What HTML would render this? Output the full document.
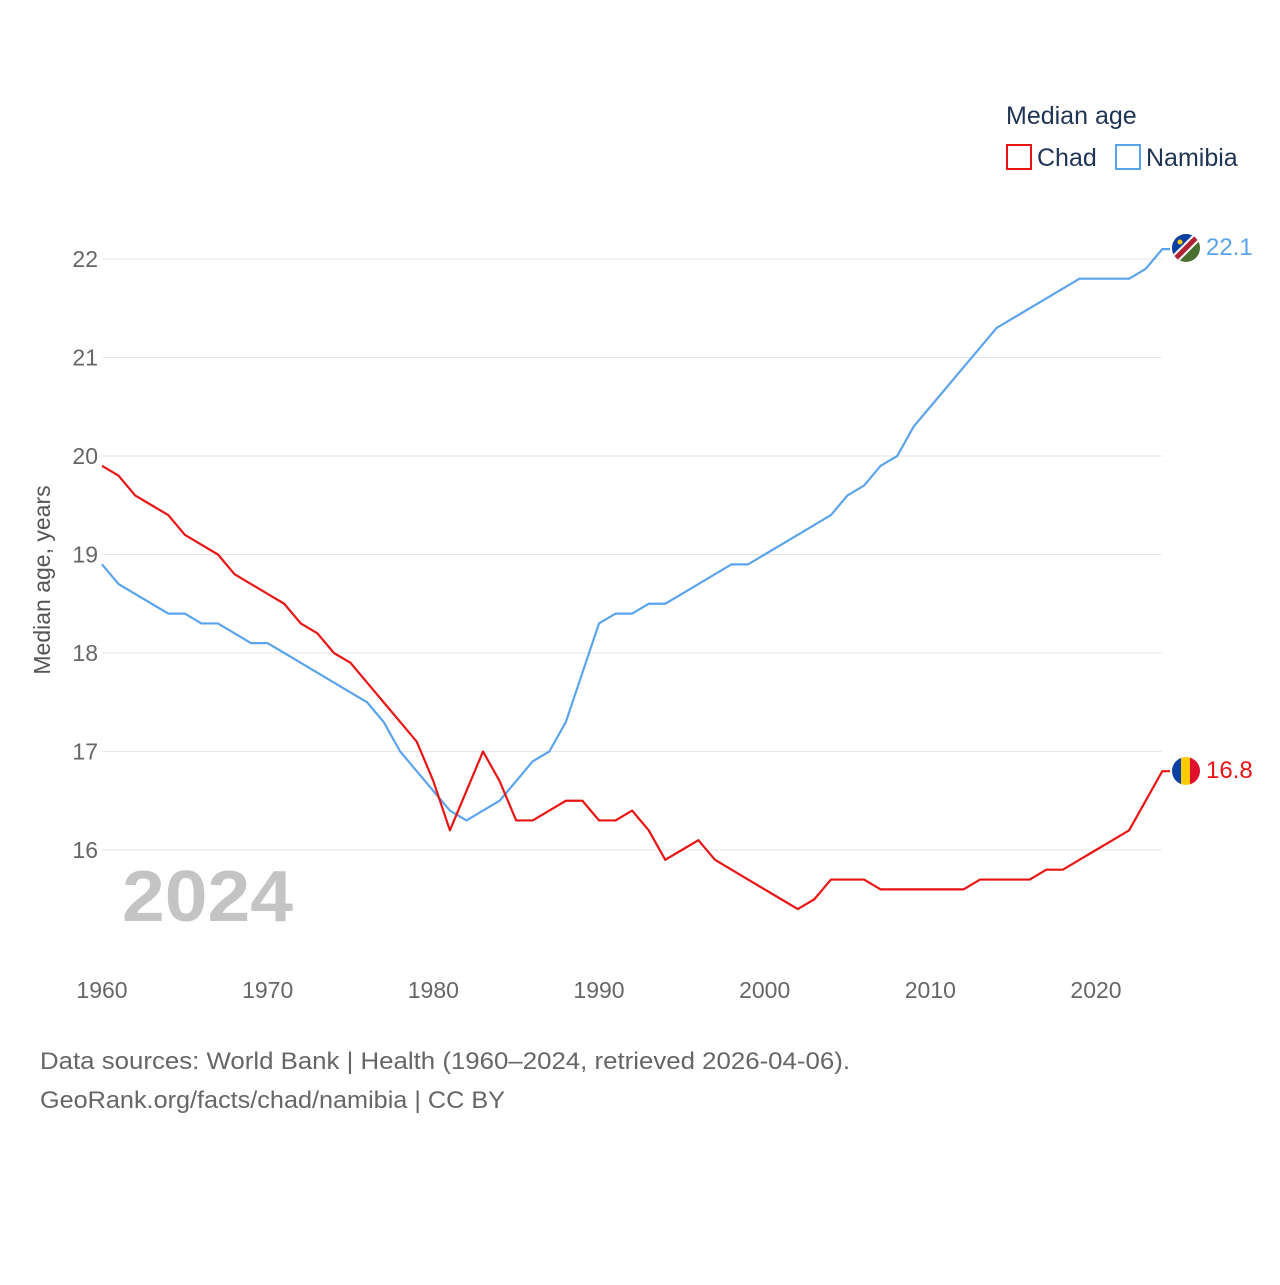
<!DOCTYPE html>
<html><head><meta charset="utf-8">
<style>
body{margin:0;background:#fff;font-family:"Liberation Sans",sans-serif;}
svg text{font-family:"Liberation Sans",sans-serif;}
</style></head>
<body>
<svg id="chart" width="1280" height="1280" xmlns="http://www.w3.org/2000/svg">
<defs>
<clipPath id="cn"><circle cx="1186" cy="248" r="14"/></clipPath>
<clipPath id="ct"><circle cx="1186" cy="771" r="14"/></clipPath>
</defs>
<g id="grid"></g>
<g id="xt"></g>
<text transform="translate(50,580) rotate(-90)" text-anchor="middle" font-size="23" fill="#555">Median age, years</text>
<text x="122" y="921" font-size="72" font-weight="bold" fill="#c4c4c4" textLength="171" lengthAdjust="spacingAndGlyphs">2024</text>
<g id="lines"></g>
<text x="1006" y="124" font-size="25" fill="#1f3354">Median age</text>
<g><rect x="1007" y="145" width="24" height="24" fill="none" stroke="#e81414" stroke-width="2"/><text x="1037" y="166" font-size="25" fill="#1f3354">Chad</text></g>
<g><rect x="1116" y="145" width="24" height="24" fill="none" stroke="#5ba4ec" stroke-width="2"/><text x="1146" y="166" font-size="25" fill="#1f3354">Namibia</text></g>
<g clip-path="url(#cn)">
<rect x="1172" y="234" width="28" height="28" fill="#4a6f2e"/>
<polygon points="1172,234 1200,234 1172,262" fill="#0a3fa3"/>
<line x1="1200" y1="234" x2="1172" y2="262" stroke="#fff" stroke-width="9"/>
<line x1="1200" y1="234" x2="1172" y2="262" stroke="#b22234" stroke-width="5"/>
<circle cx="1180" cy="242" r="2.5" fill="#ffcc00"/>
</g>
<g clip-path="url(#ct)">
<rect x="1172" y="757" width="10" height="28" fill="#0a3fa3"/>
<rect x="1181" y="757" width="10" height="28" fill="#fecb00"/>
<rect x="1190" y="757" width="10" height="28" fill="#e0102c"/>
</g>
<text x="1206" y="255" font-size="24" fill="#5ba4ec">22.1</text>
<text x="1206" y="778" font-size="24" fill="#e81414">16.8</text>
<text x="40" y="1069" font-size="24" fill="#666" textLength="810" lengthAdjust="spacingAndGlyphs">Data sources: World Bank | Health (1960–2024, retrieved 2026-04-06).</text>
<text x="40" y="1108" font-size="24" fill="#666" textLength="465" lengthAdjust="spacingAndGlyphs">GeoRank.org/facts/chad/namibia | CC BY</text>
</svg>
<script>
const years=[];for(let y=1960;y<=2024;y++)years.push(y);
const chad=[19.9,19.8,19.6,19.5,19.4,19.2,19.1,19.0,18.8,18.7,18.6,18.5,18.3,18.2,18.0,17.9,17.7,17.5,17.3,17.1,16.7,16.2,16.6,17.0,16.7,16.3,16.3,16.4,16.5,16.5,16.3,16.3,16.4,16.2,15.9,16.0,16.1,15.9,15.8,15.7,15.6,15.5,15.4,15.5,15.7,15.7,15.7,15.6,15.6,15.6,15.6,15.6,15.6,15.7,15.7,15.7,15.7,15.8,15.8,15.9,16.0,16.1,16.2,16.5,16.8];
const namibia=[18.9,18.7,18.6,18.5,18.4,18.4,18.3,18.3,18.2,18.1,18.1,18.0,17.9,17.8,17.7,17.6,17.5,17.3,17.0,16.8,16.6,16.4,16.3,16.4,16.5,16.7,16.9,17.0,17.3,17.8,18.3,18.4,18.4,18.5,18.5,18.6,18.7,18.8,18.9,18.9,19.0,19.1,19.2,19.3,19.4,19.6,19.7,19.9,20.0,20.3,20.5,20.7,20.9,21.1,21.3,21.4,21.5,21.6,21.7,21.8,21.8,21.8,21.8,21.9,22.1];
const yTicks=[16,17,18,19,20,21,22];
const xTicks=[1960,1970,1980,1990,2000,2010,2020];
const NS="http://www.w3.org/2000/svg";
const xs=y=>102+(y-1960)*(1096-102)/60;
const ys=v=>850-(v-16)*98.5;
const grid=document.getElementById('grid');
yTicks.forEach(t=>{
 const l=document.createElementNS(NS,'line');
 
 
 l.setAttribute('x1',102);l.setAttribute('x2',1162);l.setAttribute('y1',ys(t));l.setAttribute('y2',ys(t));l.setAttribute('stroke','#e6e6e6');
 grid.appendChild(l);
 const tx=document.createElementNS(NS,'text');
 
 
 tx.setAttribute('x',98);tx.setAttribute('y',ys(t)+8);tx.setAttribute('text-anchor','end');tx.setAttribute('font-size','23');tx.setAttribute('fill','#666');
 tx.textContent=t;grid.appendChild(tx);
});
const xt=document.getElementById('xt');
xTicks.forEach(t=>{
 const tx=document.createElementNS(NS,'text');
 
 
 tx.setAttribute('x',xs(t));tx.setAttribute('y',998);tx.setAttribute('text-anchor','middle');tx.setAttribute('font-size','23');tx.setAttribute('fill','#666');
 tx.textContent=t;xt.appendChild(tx);
});
const lines=document.getElementById('lines');
function draw(vals,color,name){
 const p=document.createElementNS(NS,'polyline');
 
 
 const pts=vals.map((v,i)=>xs(years[i])+','+ys(v));
 pts.push('1170,'+ys(vals[vals.length-1]));
 p.setAttribute('points',pts.join(' '));
 p.setAttribute('fill','none');p.setAttribute('stroke',color);p.setAttribute('stroke-width','2.2');p.setAttribute('stroke-linejoin','round');
 lines.appendChild(p);
}
draw(namibia,'#5ba4ec','namibia-line');
draw(chad,'#e81414','chad-line');
</script>
</body></html>
